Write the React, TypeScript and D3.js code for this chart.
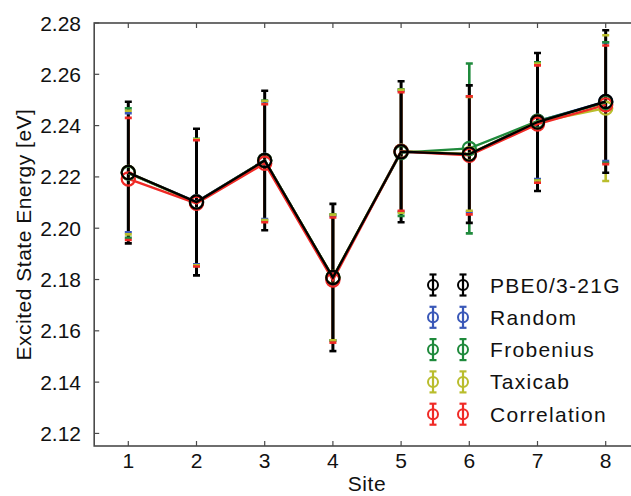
import React from "react";
import * as d3 from "d3";

const sites = [1, 2, 3, 4, 5, 6, 7, 8];
const yTicks = [2.12, 2.14, 2.16, 2.18, 2.2, 2.22, 2.24, 2.26, 2.28];
const seriesNames = ["PBE0/3-21G", "Random", "Frobenius", "Taxicab", "Correlation"];
const seriesColors = ["#000000", "#3a58b8", "#1f8a3c", "#b9bd2c", "#f02a26"];

const pbeMean = [2.2217, 2.2102, 2.2264, 2.1808, 2.2298, 2.2289, 2.2414, 2.2494];
const pbeErr = [0.0276, 0.0286, 0.0272, 0.0287, 0.0275, 0.0268, 0.0269, 0.0278];
const randomMean = [2.2216, 2.2103, 2.2265, 2.1806, 2.23, 2.2288, 2.2417, 2.2493];
const randomErr = [0.0232, 0.0244, 0.0229, 0.0243, 0.0236, 0.0225, 0.0225, 0.0231];
const frobMean = [2.2215, 2.2101, 2.2264, 2.1808, 2.2295, 2.2311, 2.2417, 2.249];
const frobErr = [0.0252, 0.0248, 0.0234, 0.0246, 0.0247, 0.0331, 0.023, 0.0235];
const taxiMean = [2.2217, 2.2101, 2.2264, 2.1808, 2.23, 2.229, 2.2414, 2.2468];
const taxiErr = [0.0241, 0.0246, 0.0232, 0.0245, 0.024, 0.0222, 0.0228, 0.0284];
const corrMean = [2.2192, 2.2097, 2.2253, 2.1798, 2.2299, 2.2284, 2.2406, 2.2481];
const corrErr = [0.0238, 0.0246, 0.023, 0.0244, 0.0231, 0.023, 0.0229, 0.0231];

const means = [pbeMean, randomMean, frobMean, taxiMean, corrMean];
const errs = [pbeErr, randomErr, frobErr, taxiErr, corrErr];

const W = 631;
const H = 496;
const left = 94.2;
const top = 23;
const bottom = 446;
const right = 639.8;
const font = "Liberation Sans, Arial, Helvetica, sans-serif";
const axisColor = "#4a4a4a";

export default function App() {
  const x = d3.scaleLinear().domain([0.5, 8.5]).range([left, right]);
  const y = d3.scaleLinear().domain([2.1151, 2.28]).range([bottom, top]);
  const line = d3
    .line<number>()
    .x((_, i) => x(sites[i]))
    .y((d) => y(d));

  const capW = 3.5;
  const colored = [1, 2, 3, 4];

  const errVertical = (k: number, w: number) =>
    sites.map((s, i) => (
      <line
        key={`v${k}-${i}`}
        x1={x(s)}
        x2={x(s)}
        y1={y(means[k][i] - errs[k][i])}
        y2={y(means[k][i] + errs[k][i])}
        stroke={seriesColors[k]}
        strokeWidth={w}
      />
    ));
  const errCaps = (k: number) =>
    sites.map((s, i) => (
      <g key={`c${k}-${i}`}>
        {[means[k][i] - errs[k][i], means[k][i] + errs[k][i]].map((v, j) => (
          <line
            key={j}
            x1={x(s) - capW}
            x2={x(s) + capW}
            y1={y(v)}
            y2={y(v)}
            stroke={seriesColors[k]}
            strokeWidth={2.6}
          />
        ))}
      </g>
    ));
  const markers = (k: number) =>
    sites.map((s, i) => (
      <circle
        key={`m${k}-${i}`}
        cx={x(s)}
        cy={y(means[k][i])}
        r={6.6}
        fill="none"
        stroke={seriesColors[k]}
        strokeWidth={2.2}
      />
    ));

  const legendX1 = 433;
  const legendX2 = 463;
  const legendY0 = 285;
  const legendDy = 32.3;

  return (
    <svg
      width={W}
      height={H}
      style={{ position: "absolute", left: 0, top: 0, background: "#fff" }}
      fontFamily={font}
    >
      <rect x={0} y={0} width={W} height={H} fill="#fff" />
      <defs>
        <clipPath id="plotClip">
          <rect x={left} y={top - 10} width={right - left} height={bottom - top + 20} />
        </clipPath>
      </defs>

      <g clipPath="url(#plotClip)">
        {colored.map((k) => (
          <g key={`cv${k}`}>{errVertical(k, 2.6)}</g>
        ))}
        <g>{errVertical(0, 3)}</g>
        <g>{errCaps(0)}</g>
        {colored.map((k) => (
          <g key={`cc${k}`}>{errCaps(k)}</g>
        ))}
        {colored.map((k) => (
          <path
            key={`l${k}`}
            d={line(means[k]) || ""}
            fill="none"
            stroke={seriesColors[k]}
            strokeWidth={2.4}
          />
        ))}
        {colored.map((k) => (
          <g key={`mk${k}`}>{markers(k)}</g>
        ))}
        <path d={line(means[0]) || ""} fill="none" stroke="#000" strokeWidth={2.4} />
        <g>{markers(0)}</g>
      </g>

      {/* axes box */}
      <rect
        x={left}
        y={top}
        width={right - left}
        height={bottom - top}
        fill="none"
        stroke={axisColor}
        strokeWidth={1.6}
      />
      {yTicks.map((t) => (
        <g key={`yt${t}`}>
          <line x1={left} x2={left + 5} y1={y(t)} y2={y(t)} stroke={axisColor} strokeWidth={1.2} />
          <line x1={right} x2={right - 5} y1={y(t)} y2={y(t)} stroke={axisColor} strokeWidth={1.2} />
          <text
            x={81}
            y={y(t)}
            dy="0.36em"
            textAnchor="end"
            fontSize={21}
            fill="#111"
          >
            {t.toFixed(2)}
          </text>
        </g>
      ))}
      {sites.map((s) => (
        <g key={`xt${s}`}>
          <line x1={x(s)} x2={x(s)} y1={bottom} y2={bottom - 5} stroke={axisColor} strokeWidth={1.2} />
          <line x1={x(s)} x2={x(s)} y1={top} y2={top + 5} stroke={axisColor} strokeWidth={1.2} />
          <text x={x(s)} y={468} textAnchor="middle" fontSize={21} fill="#111">
            {s}
          </text>
        </g>
      ))}
      <text x={367} y={491} textAnchor="middle" fontSize={21} letterSpacing={0.6} fill="#111">
        Site
      </text>
      <text
        transform={`translate(31, ${(top + bottom) / 2}) rotate(-90)`}
        textAnchor="middle"
        fontSize={21}
        letterSpacing={0.5}
        fill="#111"
      >
        Excited State Energy [eV]
      </text>

      {/* legend */}
      {seriesNames.map((name, k) => {
        const ly = legendY0 + k * legendDy;
        return (
          <g key={`lg${k}`}>
            {[legendX1, legendX2].map((lx, j) => (
              <g key={j} stroke={seriesColors[k]} fill="none">
                <line x1={lx} x2={lx} y1={ly - 10.5} y2={ly + 10.5} strokeWidth={2.2} />
                <line x1={lx - 3.5} x2={lx + 3.5} y1={ly - 10.5} y2={ly - 10.5} strokeWidth={2.2} />
                <line x1={lx - 3.5} x2={lx + 3.5} y1={ly + 10.5} y2={ly + 10.5} strokeWidth={2.2} />
                <circle cx={lx} cy={ly} r={5} strokeWidth={2} />
              </g>
            ))}
            <text x={490} y={ly} dy="0.36em" fontSize={21} letterSpacing={1.3} fill="#111">
              {name}
            </text>
          </g>
        );
      })}
    </svg>
  );
}
